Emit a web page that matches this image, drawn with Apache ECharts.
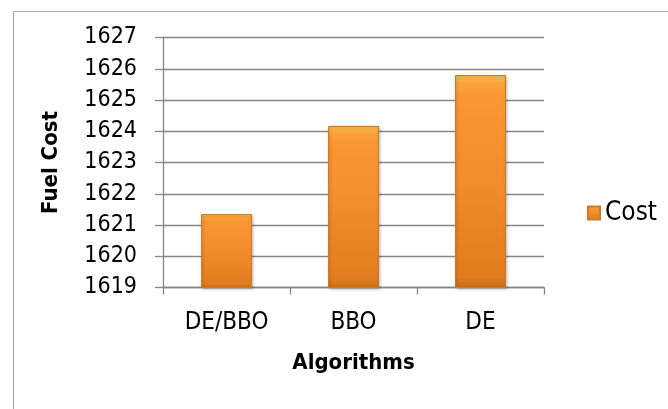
<!DOCTYPE html>
<html>
<head>
<meta charset="utf-8">
<script src="https://cdn.jsdelivr.net/npm/echarts@6/dist/echarts.min.js"></script>
<style>
html,body{margin:0;padding:0;background:#fff;}
#chart{width:668px;height:409px;}
</style>
</head>
<body>
<div id="chart"></div>
<script>
const categories = ['DE/BBO', 'BBO', 'DE'];
const costValues = [1621.35, 1624.17, 1625.8];
const seriesName = 'Cost';
const yMin = 1619, yMax = 1627, yInterval = 1;

const FONT = '"Liberation Sans Narrow", "DejaVu Sans Condensed", "Liberation Sans", sans-serif';
const chart = echarts.init(document.getElementById('chart'));
const barColor = new echarts.graphic.LinearGradient(0, 0, 0, 1, [
  {offset: 0, color: '#FCC257'},
  {offset: 0.035, color: '#FBA63C'},
  {offset: 0.1, color: '#F99733'},
  {offset: 0.5, color: '#F28D2C'},
  {offset: 0.95, color: '#E07C1F'},
  {offset: 1, color: '#C96E1A'}
]);
chart.setOption({
  animation: false,
  backgroundColor: '#fff',
  graphic: [{
    type: 'rect', left: 11, top: 9, z: -1,
    shape: {width: 700, height: 450},
    style: {fill: 'none', stroke: '#a6a6a6', lineWidth: 1}
  }],
  grid: {left: 163, right: 124, top: 37.5, bottom: 121.5},
  legend: {
    data: [seriesName], left: 582, top: 195, icon: 'rect',
    itemWidth: 12, itemHeight: 13, itemGap: 4,
    textStyle: {fontFamily: FONT, fontSize: 26, color: '#000'}
  },
  xAxis: {
    type: 'category', data: categories,
    name: 'Algorithms', nameLocation: 'middle', nameGap: 65,
    nameTextStyle: {fontFamily: FONT, fontSize: 22, fontWeight: 'bold', color: '#000'},
    axisLine: {lineStyle: {color: '#868686', width: 1.3}},
    axisTick: {show: true, alignWithLabel: false, length: 7, lineStyle: {color: '#868686', width: 1.3}},
    axisLabel: {fontFamily: FONT, fontSize: 24, color: '#000', margin: 23}
  },
  yAxis: {
    type: 'value', min: yMin, max: yMax, interval: yInterval,
    name: 'Fuel Cost', nameLocation: 'middle', nameGap: 101, nameRotate: 90,
    nameTextStyle: {fontFamily: FONT, fontSize: 22, fontWeight: 'bold', color: '#000'},
    axisLine: {show: true, lineStyle: {color: '#868686', width: 1.3}},
    axisTick: {show: true, length: 8, lineStyle: {color: '#868686', width: 1.3}},
    splitLine: {show: true, lineStyle: {color: '#868686', width: 1.3}},
    axisLabel: {fontFamily: FONT, fontSize: 23, color: '#000', margin: 26,
      formatter: v => String(v)}
  },
  series: [{
    name: seriesName, type: 'bar', data: costValues, barWidth: 51,
    itemStyle: {color: barColor, borderColor: '#D07A25', borderWidth: 1,
      shadowColor: 'rgba(0,0,0,0.25)', shadowBlur: 3, shadowOffsetX: 1, shadowOffsetY: 1}
  }]
});
</script>
</body>
</html>
